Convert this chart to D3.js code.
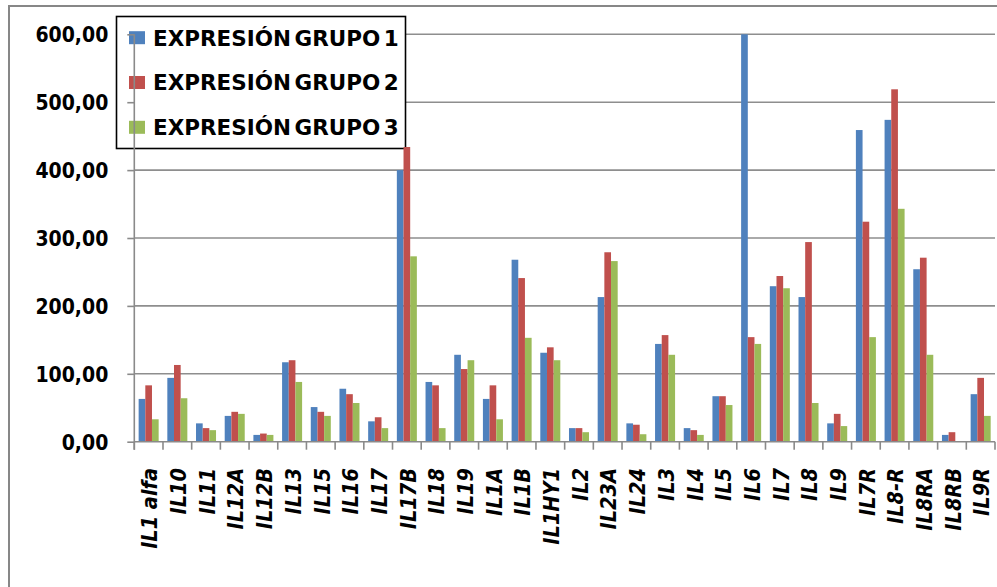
<!DOCTYPE html>
<html>
<head>
<meta charset="utf-8">
<script src="https://cdn.jsdelivr.net/npm/d3@7"></script>
<style>
  html, body { margin: 0; padding: 0; background: #fff; }
  svg { display: block; }
</style>
</head>
<body>
<svg id="chart" width="997" height="587"></svg>
<script>
const categories = ["IL1 alfa","IL10","IL11","IL12A","IL12B","IL13","IL15","IL16","IL17","IL17B","IL18","IL19","IL1A","IL1B","IL1HY1","IL2","IL23A","IL24","IL3","IL4","IL5","IL6","IL7","IL8","IL9","IL7R","IL8-R","IL8RA","IL8RB","IL9R"];
const seriesNames = ["EXPRESIÓN GRUPO 1","EXPRESIÓN GRUPO 2","EXPRESIÓN GRUPO 3"];
const grupo1 = [63,94,27,38,10,117,51,78,30,400,88,128,63,268,131,20,213,27,144,20,67,600,229,213,27,459,474,254,10,70];
const grupo2 = [83,113,20,44,12,120,44,70,36,434,83,107,83,241,139,20,279,25,157,17,67,154,244,294,41,324,519,271,14,94];
const grupo3 = [33,64,17,41,10,88,38,57,20,273,20,120,33,153,120,14,266,11,128,10,54,144,226,57,23,154,343,128,0.5,38];
const yTicks = [0,100,200,300,400,500,600];
const colors = ["#4F81BD","#C0504D","#9BBB59"];

const seriesValues = [grupo1, grupo2, grupo3];
const rows = categories.map((c, i) => ({cat: c, vals: seriesValues.map((s, k) => ({k, v: s[i]}))}));

const svg = d3.select("#chart");
const plot = {left: 134.3, right: 995, top: 34.3, bottom: 441.7};
const labelFont = "'DejaVu Sans Condensed','DejaVu Sans',sans-serif";

svg.append("rect").attr("width", 997).attr("height", 587).attr("fill", "#fff");
// outer chart border (only left & top visible)
svg.append("path").attr("d", "M9,587 L9,6 L997,6").attr("fill", "none")
  .attr("stroke", "#878787").attr("stroke-width", 2);

const x = d3.scaleBand().domain(categories).range([plot.left, plot.right]).paddingInner(0).paddingOuter(0);
const xs = d3.scaleBand().domain([0,1,2]).range([0, x.bandwidth()]).paddingInner(0).paddingOuter(0.65);
const y = d3.scaleLinear().domain([0, 600]).range([plot.bottom, plot.top]);

// gridlines
svg.append("g").selectAll("line").data(yTicks.filter(d => d > 0)).join("line")
  .attr("x1", plot.left).attr("x2", plot.right)
  .attr("y1", d => y(d)).attr("y2", d => y(d))
  .attr("stroke", "#8e8e8e").attr("stroke-width", 1.6);

// legend
const lg = svg.append("g");
lg.append("rect").attr("x", 116.5).attr("y", 16.5).attr("width", 289).attr("height", 132)
  .attr("fill", "#fff").attr("stroke", "#000").attr("stroke-width", 1.6);
const lrow = lg.selectAll("g.row").data(seriesNames).join("g")
  .attr("transform", (d, i) => `translate(0,${37.7 + i * 44.8})`);
lrow.append("rect").attr("x", 129).attr("y", -6.5).attr("width", 16).attr("height", 13)
  .attr("fill", (d, i) => colors[i]);
lrow.append("text").attr("x", 153).attr("y", 7.8).text(d => d)
  .attr("font-family", "'DejaVu Sans',sans-serif").attr("font-weight", "bold")
  .attr("font-size", 21.5).attr("word-spacing", -4).attr("fill", "#000");

// bars
const groups = svg.append("g").selectAll("g").data(rows).join("g")
  .attr("transform", d => `translate(${x(d.cat)},0)`);
groups.selectAll("rect").data(d => d.vals).join("rect")
  .attr("x", d => xs(d.k)).attr("width", xs.bandwidth())
  .attr("y", d => y(d.v)).attr("height", d => y(0) - y(d.v))
  .attr("fill", d => colors[d.k]);

// y axis
const yAxis = d3.axisLeft(y).tickValues(yTicks).tickSize(7).tickPadding(19)
  .tickFormat(d => d3.format(".2f")(d).replace(".", ","));
const yg = svg.append("g").attr("transform", `translate(${plot.left},0)`).call(yAxis);
yg.select(".domain").remove();
yg.append("line").attr("x1", 0).attr("x2", 0).attr("y1", plot.top).attr("y2", plot.bottom + 8)
  .attr("stroke", "#8a8a8a").attr("stroke-width", 1.6);
yg.selectAll(".tick line").attr("stroke", "#8a8a8a").attr("stroke-width", 1.6);
yg.selectAll(".tick text").attr("font-family", labelFont).attr("font-stretch", "condensed")
  .attr("font-weight", "bold").attr("font-size", 21).attr("fill", "#000").attr("dy", "0.36em");

// x axis
const xg = svg.append("g");
xg.append("line").attr("x1", plot.left).attr("x2", plot.right).attr("y1", plot.bottom).attr("y2", plot.bottom)
  .attr("stroke", "#8a8a8a").attr("stroke-width", 1.6);
const bounds = categories.map(c => x(c)).concat([plot.right]);
xg.selectAll("line.tk").data(bounds).join("line").attr("class", "tk")
  .attr("x1", d => d).attr("x2", d => d).attr("y1", plot.bottom).attr("y2", plot.bottom + 8)
  .attr("stroke", "#8a8a8a").attr("stroke-width", 1.6);
xg.selectAll("text").data(categories).join("text")
  .attr("transform", d => `translate(${x(d) + x.bandwidth() / 2 + 1},468) rotate(-90)`)
  .attr("text-anchor", "end").attr("dy", "0.36em")
  .attr("font-family", labelFont).attr("font-stretch", "condensed")
  .attr("font-weight", "bold").attr("font-style", "italic").attr("font-size", 21.5)
  .attr("fill", "#000").text(d => d);
</script>
</body>
</html>
